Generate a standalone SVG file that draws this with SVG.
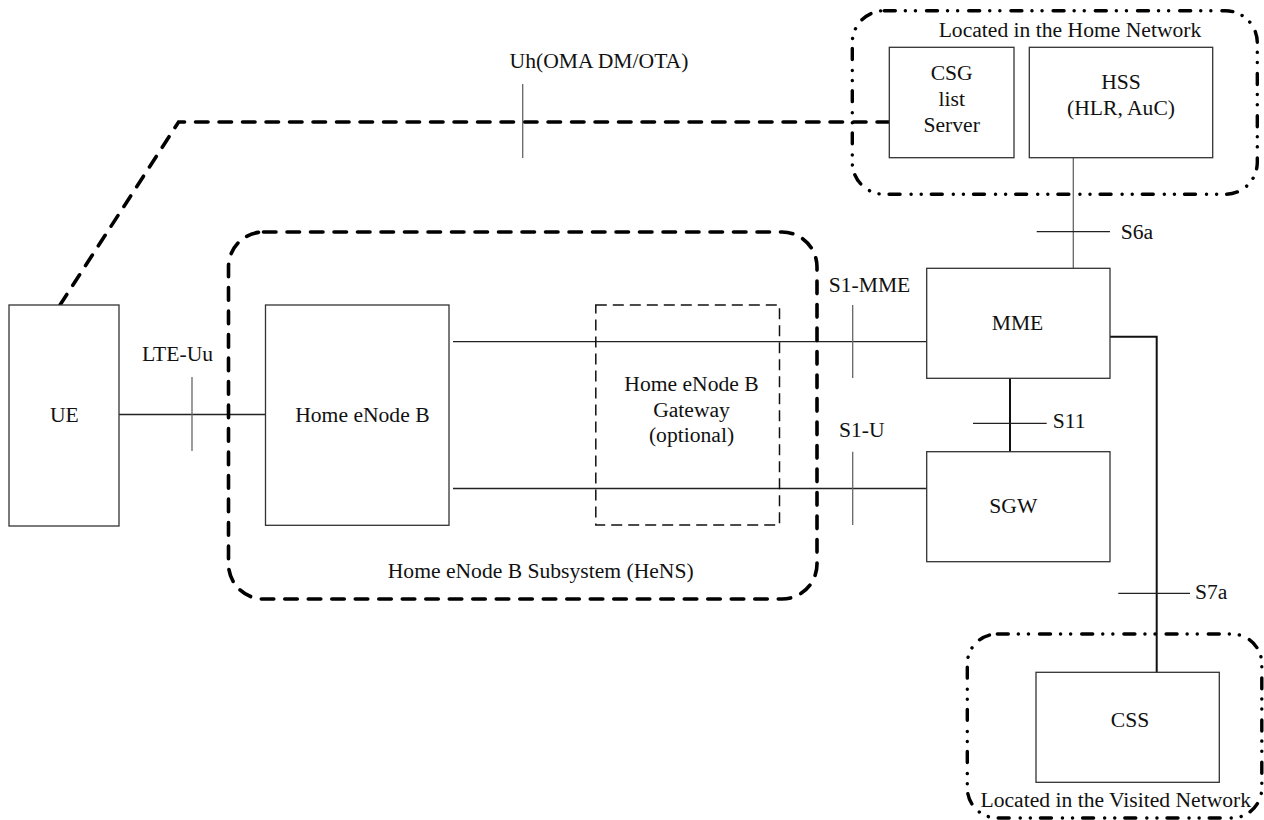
<svg xmlns="http://www.w3.org/2000/svg" width="1264" height="820" viewBox="0 0 1264 820">
<style>
text{font-family:"Liberation Serif","Times New Roman",serif;font-size:21.6px;fill:#111}
.c{text-anchor:middle}
.box{fill:#fff;stroke:#333;stroke-width:1.3}
.tick{stroke:#666;stroke-width:1.3;fill:none}
.ln{stroke:#222;stroke-width:1.3;fill:none}
.thick{stroke:#111;stroke-width:2;fill:none}
.dash{stroke:#000;stroke-width:3.6;fill:none;stroke-linecap:round;stroke-dasharray:12.5 11}
.gw{stroke:#111;stroke-width:1.5;fill:none;stroke-dasharray:11 6}
.dd{stroke:#000;stroke-width:3.4;fill:none;stroke-linecap:round;stroke-dasharray:11 10 0.1 10 0.1 11}
</style>
<rect width="1264" height="820" fill="#fff"/>
<g id="connectors">
<polyline class="dash" points="60,305 178.6,122 889,122"/>
<line class="tick" x1="522.7" y1="84" x2="522.7" y2="158"/>
<line class="ln" x1="119" y1="414.5" x2="265.5" y2="414.5"/>
<line class="tick" x1="192" y1="377" x2="192" y2="451"/>
<line class="ln" x1="453" y1="341.7" x2="926.7" y2="341.7"/>
<line class="tick" x1="852.7" y1="305" x2="852.7" y2="378"/>
<line class="ln" x1="453" y1="488.5" x2="926.7" y2="488.5"/>
<line class="tick" x1="852.7" y1="451.7" x2="852.7" y2="525"/>
<line class="thick" x1="1010" y1="378.3" x2="1010" y2="451.7"/>
<line class="ln" x1="973" y1="423.3" x2="1046.7" y2="423.3"/>
<line class="tick" x1="1073.3" y1="157.7" x2="1073.3" y2="268.3"/>
<line class="ln" x1="1036.7" y1="231.7" x2="1110" y2="231.7"/>
<polyline class="thick" points="1110,336.7 1156.7,336.7 1156.7,672.3"/>
<line class="ln" x1="1118.3" y1="593.3" x2="1190" y2="593.3"/>
<text x="599" y="68" class="c">Uh(OMA DM/OTA)</text>
<text x="177.5" y="361" class="c">LTE-Uu</text>
<text x="869.5" y="291.7" class="c">S1-MME</text>
<text x="861.7" y="436.7" class="c">S1-U</text>
<text x="1120.7" y="239.3">S6a</text>
<text x="1052.7" y="428.3">S11</text>
<text x="1195" y="599.3">S7a</text>
</g>
<g id="home-network">
<rect class="dd" x="852.3" y="10.7" width="405" height="183.6" rx="32"/>
<text x="1070" y="37" class="c">Located in the Home Network</text>
</g>
<g id="visited-network">
<rect class="dd" x="967.3" y="634" width="294.5" height="184" rx="30"/>
<text x="1115.8" y="807.3" class="c">Located in the Visited Network</text>
</g>
<g id="hens">
<rect class="dash" x="228.5" y="232" width="588.5" height="367" rx="35"/>
<text x="540.7" y="578" class="c">Home eNode B Subsystem (HeNS)</text>
</g>
<g id="ue">
<rect class="box" x="9" y="305" width="110" height="221"/>
<text x="64.3" y="422.3" class="c">UE</text>
</g>
<g id="henb">
<rect class="box" x="265.5" y="305" width="183.5" height="220.3"/>
<text x="362.4" y="421.7" class="c">Home eNode B</text>
</g>
<g id="henb-gw">
<rect class="gw" x="595.8" y="305" width="183.7" height="220"/>
<text x="691.5" y="390.7" class="c">Home eNode B</text>
<text x="691.5" y="416.7" class="c">Gateway</text>
<text x="691.5" y="441.7" class="c">(optional)</text>
</g>
<g id="csg">
<rect class="box" x="889.3" y="47.3" width="124.7" height="110.4"/>
<text x="951.7" y="80" class="c">CSG</text>
<text x="951.7" y="105.5" class="c">list</text>
<text x="951.7" y="131.7" class="c">Server</text>
</g>
<g id="hss">
<rect class="box" x="1029.3" y="47.3" width="183.4" height="110.4"/>
<text x="1121" y="89.3" class="c">HSS</text>
<text x="1121" y="114.5" class="c">(HLR, AuC)</text>
</g>
<g id="mme">
<rect class="box" x="926.7" y="268.3" width="183.3" height="110"/>
<text x="1017.5" y="330" class="c">MME</text>
</g>
<g id="sgw">
<rect class="box" x="926.7" y="451.7" width="183.3" height="110"/>
<text x="1013.3" y="513.3" class="c">SGW</text>
</g>
<g id="css">
<rect class="box" x="1036" y="672.3" width="183.3" height="110"/>
<text x="1130" y="726.7" class="c">CSS</text>
</g>
</svg>
